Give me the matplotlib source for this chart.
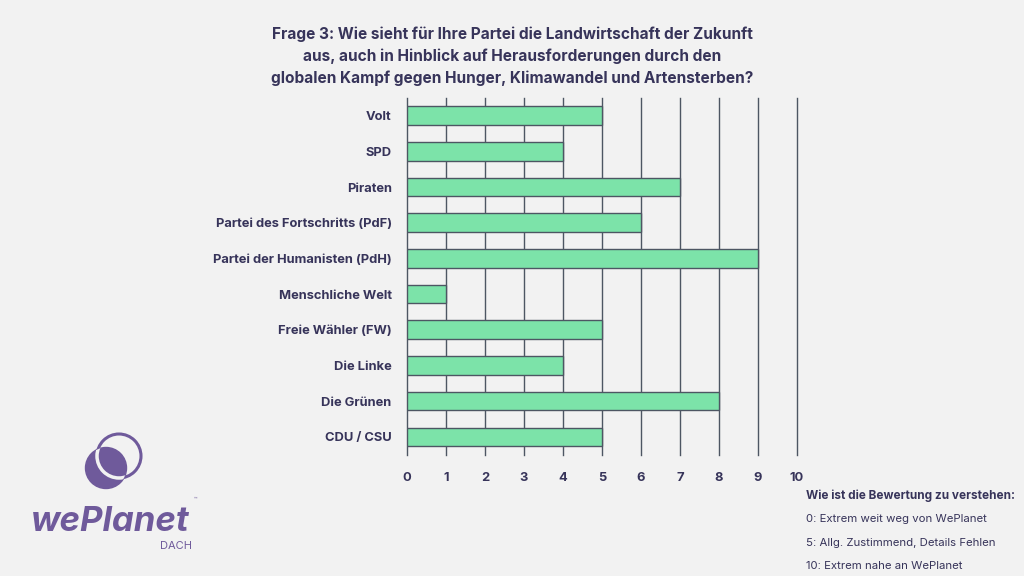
import matplotlib
matplotlib.use("Agg")
from matplotlib import pyplot as plt
from matplotlib.patches import Circle

# data, bottom to top as in the chart
parties = ["CDU / CSU", "Die Grünen", "Die Linke", "Freie Wähler (FW)",
           "Menschliche Welt", "Partei der Humanisten (PdH)",
           "Partei des Fortschritts (PdF)", "Piraten", "SPD", "Volt"]
scores = [5, 8, 4, 5, 1, 9, 6, 7, 4, 5]
xticks = [0, 1, 2, 3, 4, 5, 6, 7, 8, 9, 10]

title = ("Frage 3: Wie sieht für Ihre Partei die Landwirtschaft der Zukunft\n"
         "aus, auch in Hinblick auf Herausforderungen durch den\n"
         "globalen Kampf gegen Hunger, Klimawandel und Artensterben?")
legend_head = "Wie ist die Bewertung zu verstehen:"
legend_lines = ["0: Extrem weit weg von WePlanet",
                "5: Allg. Zustimmend, Details Fehlen",
                "10: Extrem nahe an WePlanet"]

bg = "#f2f2f2"
navy = "#37345a"
green = "#7ce3a9"
purple = "#6f5a9b"

plt.rcParams['font.family'] = ['Inter', 'DejaVu Sans']

fig = plt.figure(figsize=(10.24, 5.76), dpi=100, facecolor=bg)

# background layer in pixel coords for logo and text
bga = fig.add_axes([0, 0, 1, 1])
bga.set_xlim(0, 1024)
bga.set_ylim(576, 0)
bga.axis("off")
bga.set_facecolor(bg)

ax = fig.add_axes([407 / 1024, 1 - 455 / 576, 390 / 1024, 357.5 / 576])
ax.set_facecolor("none")
ax.barh(parties, scores, height=0.52, color=green, edgecolor="#4d5663",
        linewidth=1, zorder=3)
ax.set_xlim(0, 10)
ax.set_ylim(-0.51, 9.51)
ax.set_xticks(xticks)
ax.grid(axis="x", color="#4d5663", linewidth=1, zorder=0)
for gl in ax.get_xgridlines():
    gl.set_clip_on(False)
ax.tick_params(length=0, labelsize=9.3, labelcolor=navy)
ax.tick_params(axis="y", pad=11)
ax.tick_params(axis="x", pad=12)
for lbl in ax.get_yticklabels() + ax.get_xticklabels():
    lbl.set_fontweight("bold")
for s in ax.spines.values():
    s.set_visible(False)

bga.text(512, 56, title, ha="center", va="center", fontsize=11.1,
         fontweight="bold", color=navy, linespacing=1.5)

# rating explanation
bga.text(806, 496, legend_head, ha="left", va="center", fontsize=8.5,
         fontweight="bold", color=navy)
for i, line in enumerate(legend_lines):
    bga.text(806, 519 + i * 23.5, line, ha="left", va="center",
             fontsize=8.2, color=navy)

# logo
ring = Circle((119, 456), 22, fill=False, edgecolor=purple, linewidth=2.2)
bga.add_patch(ring)
disc = Circle((106, 468), 20.5, color=purple)
bga.add_patch(disc)
gap = Circle((119, 456), 22, fill=False, edgecolor=bg, linewidth=2.5)
bga.add_patch(gap)
gap.set_clip_path(disc)
bga.text(110, 522, "wePlanet", ha="center", va="center", fontsize=25,
         fontweight="bold", style="italic", color=purple)
bga.text(195, 499, "™", ha="center", va="center", fontsize=4, color=purple)
bga.text(176, 546, "DACH", ha="center", va="center", fontsize=8,
         color=purple)

fig.savefig("out.png", dpi=100, facecolor=bg)
